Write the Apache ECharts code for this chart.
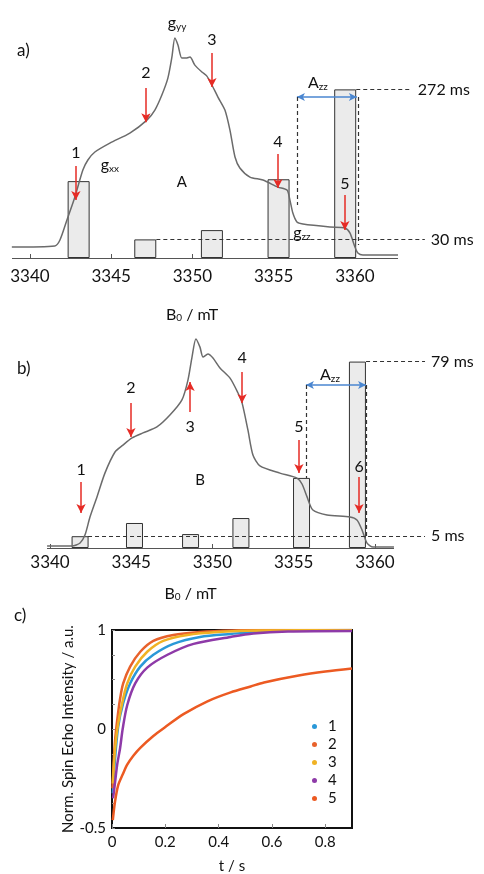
<!DOCTYPE html>
<html>
<head>
<meta charset="utf-8">
<script src="https://cdn.jsdelivr.net/npm/echarts@6/dist/echarts.min.js"></script>
<style>html,body{margin:0;background:#fff}#container{width:484px;height:874px}</style>
</head>
<body>
<div id="container"></div>
<script>
// 磁场刻度 (mT)
var fieldTicks = [3340, 3345, 3350, 3355, 3360];

// a) EPR 谱 A: [B0 / mT, intensity]
var spectrumA = [
  [3338.89,0.048],[3341.54,0.053],[3341.85,0.079],[3342.28,0.167],[3342.77,0.268],[3343.26,0.386],
  [3343.57,0.430],[3344.00,0.465],[3344.92,0.504],[3346.15,0.548],[3347.20,0.605],[3347.69,0.649],
  [3348.12,0.715],[3348.49,0.789],[3348.74,0.882],[3348.92,0.965],[3349.11,0.934],[3349.35,0.877],
  [3349.60,0.877],[3349.85,0.882],[3350.15,0.846],[3350.58,0.816],[3350.89,0.798],[3351.20,0.759],
  [3351.57,0.706],[3352.00,0.649],[3352.31,0.561],[3352.62,0.443],[3352.92,0.395],[3353.54,0.355],
  [3354.34,0.342],[3355.26,0.311],[3355.82,0.298],[3356.00,0.254],[3356.18,0.197],[3356.43,0.158],
  [3356.80,0.149],[3358.46,0.136],[3359.38,0.132],[3359.69,0.110],[3360.00,0.048],[3360.18,0.022],
  [3360.49,0.013],[3362.65,0.013]
];
var barFieldA = [3343.0, 3347.1, 3351.2, 3355.3, 3359.4];
var tauA = [124, 30, 45, 127, 272];   // ms

// b) EPR 谱 B
var spectrumB = [
  [3339.82,0.008],[3341.35,0.008],[3341.85,0.020],[3342.15,0.052],[3342.46,0.125],[3342.89,0.206],
  [3343.38,0.302],[3344.00,0.387],[3344.49,0.415],[3345.05,0.444],[3345.72,0.464],[3346.58,0.488],
  [3347.38,0.536],[3348.12,0.597],[3348.49,0.677],[3348.74,0.770],[3348.98,0.843],[3349.23,0.810],
  [3349.42,0.770],[3349.72,0.782],[3350.03,0.766],[3350.46,0.726],[3351.08,0.685],[3351.57,0.625],
  [3351.82,0.585],[3352.18,0.476],[3352.49,0.375],[3352.92,0.331],[3354.15,0.302],[3355.20,0.282],
  [3355.51,0.258],[3355.82,0.206],[3356.18,0.153],[3357.05,0.133],[3358.46,0.125],[3358.89,0.113],
  [3359.20,0.073],[3359.51,0.020],[3359.88,0.004],[3361.17,0.004]
];
var barFieldB = [3341.85, 3345.2, 3348.65, 3351.75, 3355.48, 3358.92];
var tauB = [5, 10.6, 5.9, 12.7, 29.7, 79];   // ms

// c) 反转恢复曲线: [t / s, norm. intensity]
var curveNames = ['1', '2', '3', '4', '5'];
var curve1 = [[0.003,-0.65],[0.01,-0.35],[0.023,0.02],[0.042,0.26],[0.068,0.46],[0.106,0.63],[0.155,0.75],[0.23,0.86],[0.33,0.93],[0.445,0.96],[0.6,0.99],[0.9,1.0]];
var curve2 = [[0.002,-0.6],[0.006,-0.35],[0.012,-0.1],[0.02,0.1],[0.03,0.3],[0.042,0.46],[0.068,0.63],[0.106,0.78],[0.155,0.89],[0.23,0.95],[0.33,0.98],[0.45,0.995],[0.6,1.0],[0.9,1.0]];
var curve3 = [[0.003,-0.55],[0.01,-0.25],[0.02,0.0],[0.038,0.26],[0.057,0.46],[0.087,0.63],[0.132,0.78],[0.192,0.89],[0.283,0.95],[0.396,0.98],[0.55,0.995],[0.9,1.0]];
var curve4 = [[0.004,-0.7],[0.011,-0.55],[0.02,-0.35],[0.03,-0.2],[0.04,0.0],[0.057,0.24],[0.087,0.46],[0.132,0.62],[0.208,0.75],[0.306,0.86],[0.445,0.93],[0.53,0.965],[0.66,0.985],[0.9,0.99]];
var curve5 = [[0.003,-0.92],[0.011,-0.74],[0.023,-0.57],[0.04,-0.46],[0.057,-0.36],[0.08,-0.27],[0.106,-0.19],[0.155,-0.07],[0.2,0.02],[0.268,0.15],[0.358,0.28],[0.445,0.37],[0.52,0.43],[0.57,0.47],[0.7,0.54],[0.8,0.58],[0.9,0.61]];
var tTicks = [0, 0.2, 0.4, 0.6, 0.8];
var yTickValuesC = [-1, 0, 1];
var yTickLabelsC = ['-0.5', '0', '1'];

var FONT = 'Lato, "Open Sans", sans-serif';
var INK = '#111';
var RED = '#e62b25', BLUE = '#4a86d0';
var richSub = {
  s: {fontSize: 10, fontFamily: FONT, color: INK, padding: [7, 0, 0, 0]},
  t: {fontSize: 16, fontFamily: FONT, color: INK}
};

function txt(coord, text, size) {
  return {coord: coord, symbol: 'rect', symbolSize: 1, itemStyle: {color: 'rgba(0,0,0,0)'},
    label: {show: true, position: 'inside', formatter: text, fontSize: size || 16, color: INK, fontFamily: FONT, rich: richSub}};
}
function arrow(x, y1, y2) {
  return [{coord: [x, y1], symbol: 'none', lineStyle: {color: RED, width: 1.5, type: 'solid'}},
          {coord: [x, y2], symbol: 'arrow', symbolSize: [7, 9]}];
}
function dashed(p1, p2, label) {
  var s = {coord: p1, symbol: 'none', lineStyle: {color: '#333', width: 1.2, type: [4, 3]}};
  if (label) s.label = {show: true, position: 'end', formatter: label, fontSize: 16, color: INK, fontFamily: FONT, distance: 6};
  return [s, {coord: p2, symbol: 'none'}];
}
function solid(p1, p2) {
  return [{coord: p1, symbol: 'none', lineStyle: {color: '#555', width: 1.2, type: 'solid'}}, {coord: p2, symbol: 'none'}];
}
function dblArrow(y, x1, x2) {
  return [{coord: [x1, y], symbol: 'arrow', symbolSize: [6, 8], lineStyle: {color: BLUE, width: 1.5, type: 'solid'}},
          {coord: [x2, y], symbol: 'arrow', symbolSize: [6, 8]}];
}

// 注释位置 (数据坐标)
var arrowsA = [[3342.83,0.404,0.254,'1',0.461],[3347.14,0.746,0.596,'2',0.811],[3351.20,0.899,0.750,'3',0.956],
               [3355.26,0.456,0.307,'4',0.509],[3359.38,0.276,0.123,'5',0.325]];
var arrowsB = [[3341.91,0.266,0.141,'1',0.315],[3344.98,0.585,0.448,'2',0.645],[3348.62,0.548,0.669,'3',0.488],
               [3351.82,0.710,0.585,'4',0.766],[3355.32,0.435,0.302,'5',0.488],[3359.02,0.286,0.141,'6',0.327]];

var lineA = arrowsA.map(function (a) { return arrow(a[0], a[1], a[2]); }).concat([
  dblArrow(0.706, 3356.43, 3360.12),
  dashed([3356.43, 0.706], [3356.43, 0.232]),
  dashed([3360.18, 0.706], [3360.18, 0.057])
]);
var pointA = arrowsA.map(function (a) { return txt([a[0], a[4]], a[3]); }).concat([
  txt([3349.35, 0.333], 'A', 15),
  txt([3344.92, 0.408], '{t|g}{s|xx}'),
  txt([3349.05, 1.031], '{t|g}{s|yy}'),
  txt([3356.74, 0.110], '{t|g}{s|zz}'),
  txt([3357.72, 0.768], '{t|A}{s|zz}')
]);
var lineB = arrowsB.map(function (a) { return arrow(a[0], a[1], a[2]); }).concat([
  dblArrow(0.657, 3355.75, 3359.45),
  dashed([3355.75, 0.657], [3355.75, 0.282]),
  dashed([3359.45, 0.657], [3359.45, 0.044])
]);
var pointB = arrowsB.map(function (a) { return txt([a[0], a[4]], a[3]); }).concat([
  txt([3349.23, 0.274], 'B', 15),
  txt([3357.23, 0.698], '{t|A}{s|zz}')
]);

function pairs(xs, ys) { return xs.map(function (x, i) { return [x, ys[i]]; }); }

var myChart = echarts.init(document.getElementById('container'));

function fieldAxis(grid, min, max, margin, gap, padRight) {
  return {
    type: 'value', gridIndex: grid, min: min, max: max,
    axisLine: {show: false},
    axisTick: {show: true, inside: true, length: 4, customValues: fieldTicks, lineStyle: {color: '#555'}},
    axisLabel: {customValues: fieldTicks, fontSize: 17, color: INK, margin: margin, fontFamily: FONT,
      formatter: function (v) { return String(v); }},
    splitLine: {show: false},
    name: 'B{s|0} / mT', nameLocation: 'middle', nameGap: gap,
    nameTextStyle: {fontSize: 16, color: INK, fontFamily: FONT, padding: [0, padRight, 0, 0],
      rich: {s: {fontSize: 10, padding: [7, 0, 0, 0], fontFamily: FONT, color: INK}}}
  };
}
function hiddenY(grid, max) {
  return {type: 'value', gridIndex: grid, min: 0, max: max, show: false, splitLine: {show: false}};
}

var option = {
  animation: false,
  textStyle: {fontFamily: FONT},
  grid: [
    {left: 12, right: 0, top: 15, height: 243, outerBoundsMode: 'none'},
    {left: 47, right: 0, top: 300, height: 248, outerBoundsMode: 'none'},
    {left: 112, top: 630, width: 240, height: 198, show: true, borderColor: '#111', borderWidth: 2, outerBoundsMode: 'none'}
  ],
  graphic: [
    {type: 'text', left: 17, top: 42, style: {text: 'a)', fontSize: 17, fill: INK, fontFamily: FONT}},
    {type: 'text', left: 17, top: 360, style: {text: 'b)', fontSize: 17, fill: INK, fontFamily: FONT}},
    {type: 'text', left: 14, top: 607, style: {text: 'c)', fontSize: 17, fill: INK, fontFamily: FONT}}
  ],
  xAxis: [
    fieldAxis(0, 3338.9, 3367.94, 10, 48, 112),
    fieldAxis(1, 3339.815, 3366.71, 6, 37, 150),
    {
      type: 'value', gridIndex: 2, min: 0, max: 0.9,
      axisLine: {show: true, onZero: false, lineStyle: {color: '#111', width: 2}},
      axisTick: {inside: true, length: 4, customValues: tTicks, lineStyle: {color: '#888'}},
      axisLabel: {customValues: tTicks, fontSize: 15, color: INK, margin: 7, fontFamily: FONT,
        formatter: function (v) { return v === 0 ? '0' : v.toFixed(1); }},
      splitLine: {show: false},
      name: 't / s', nameLocation: 'middle', nameGap: 31,
      nameTextStyle: {fontSize: 15, color: INK, fontFamily: FONT}
    }
  ],
  yAxis: [
    hiddenY(0, 1.066), hiddenY(0, 392),
    hiddenY(1, 1), hiddenY(1, 105.1),
    {
      type: 'value', gridIndex: 2, min: -1, max: 1, interval: 0.25,
      axisLine: {show: true, onZero: false, lineStyle: {color: '#111', width: 2}},
      axisTick: {inside: true, length: 3, lineStyle: {color: '#888'}},
      axisLabel: {customValues: yTickValuesC, fontSize: 15, color: INK, margin: 6, fontFamily: FONT,
        formatter: function (v) { return yTickLabelsC[yTickValuesC.indexOf(v)]; }},
      splitLine: {show: false},
      name: 'Norm. Spin Echo Intensity / a.u.', nameLocation: 'middle', nameGap: 35,
      nameTextStyle: {fontSize: 15, color: INK, fontFamily: FONT}
    }
  ],
  legend: {
    data: curveNames, orient: 'vertical', left: 307, top: 714,
    icon: 'circle', itemWidth: 5, itemHeight: 5, itemGap: 3,
    textStyle: {fontSize: 15, lineHeight: 14, color: INK, fontFamily: FONT, padding: [0, 0, 0, 6]}
  },
  series: [
    {
      type: 'bar', xAxisIndex: 0, yAxisIndex: 1, data: pairs(barFieldA, tauA), barWidth: 22, z: 2,
      itemStyle: {color: '#ebebeb', borderColor: '#333', borderWidth: 1},
      markLine: {silent: true, symbol: ['none', 'none'], label: {show: false}, data: [
        solid([3338.9, 0], [3362.65, 0]),
        dashed([3360.08, tauA[4]], [3363.5, tauA[4]], tauA[4] + ' ms'),
        dashed([3347.78, tauA[1]], [3364.3, tauA[1]], tauA[1] + ' ms')
      ]}
    },
    {
      type: 'line', xAxisIndex: 0, yAxisIndex: 0, data: spectrumA, smooth: 0.25, showSymbol: false, z: 3,
      lineStyle: {color: '#6b6b6b', width: 1.5}, itemStyle: {color: '#6b6b6b'},
      markLine: {silent: true, symbol: ['none', 'none'], label: {show: false}, data: lineA},
      markPoint: {silent: true, data: pointA}
    },
    {
      type: 'bar', xAxisIndex: 1, yAxisIndex: 3, data: pairs(barFieldB, tauB), barWidth: 17, z: 2,
      itemStyle: {color: '#ebebeb', borderColor: '#333', borderWidth: 1},
      markLine: {silent: true, symbol: ['none', 'none'], label: {show: false}, data: [
        solid([3339.815, 0], [3361.17, 0]),
        dashed([3359.45, tauB[5]], [3363.08, tauB[5]], tauB[5] + ' ms'),
        dashed([3342.34, tauB[0]], [3363.08, tauB[0]], tauB[0] + ' ms')
      ]}
    },
    {
      type: 'line', xAxisIndex: 1, yAxisIndex: 2, data: spectrumB, smooth: 0.25, showSymbol: false, z: 3,
      lineStyle: {color: '#6b6b6b', width: 1.5}, itemStyle: {color: '#6b6b6b'},
      markLine: {silent: true, symbol: ['none', 'none'], label: {show: false}, data: lineB},
      markPoint: {silent: true, data: pointB}
    },
    {name: '1', type: 'line', xAxisIndex: 2, yAxisIndex: 4, data: curve1, smooth: 0.3, showSymbol: false, color: '#2a98d8', lineStyle: {width: 2.5}},
    {name: '2', type: 'line', xAxisIndex: 2, yAxisIndex: 4, data: curve2, smooth: 0.3, showSymbol: false, color: '#e8622c', lineStyle: {width: 2.5}},
    {name: '3', type: 'line', xAxisIndex: 2, yAxisIndex: 4, data: curve3, smooth: 0.3, showSymbol: false, color: '#f0b224', lineStyle: {width: 2.5}},
    {name: '4', type: 'line', xAxisIndex: 2, yAxisIndex: 4, data: curve4, smooth: 0.3, showSymbol: false, color: '#8e3aa8', lineStyle: {width: 2.5}},
    {name: '5', type: 'line', xAxisIndex: 2, yAxisIndex: 4, data: curve5, smooth: 0.3, showSymbol: false, color: '#ec5a22', lineStyle: {width: 2.5}}
  ]
};
myChart.setOption(option);
</script>
</body>
</html>
